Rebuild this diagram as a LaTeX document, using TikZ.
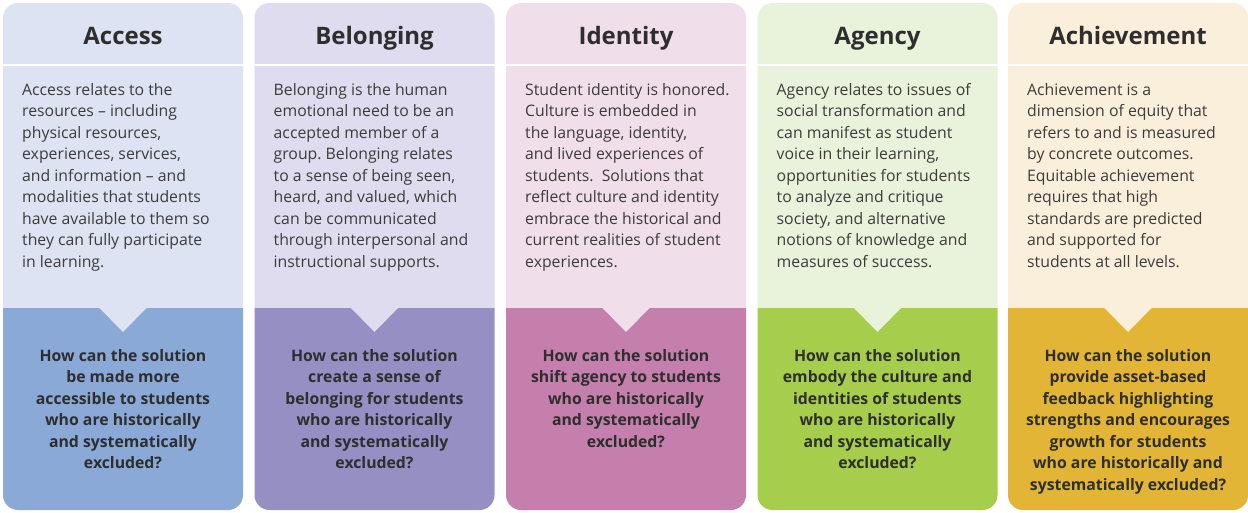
\documentclass[tikz,border=0pt]{standalone}
\usepackage{fontspec}
\setmainfont{Open Sans}
\frenchspacing
\definecolor{txt}{HTML}{2E2E2E}
\definecolor{bodytxt}{HTML}{3C3C3C}
\definecolor{lA}{HTML}{DDE3F2}\definecolor{dA}{HTML}{8BA9D6}
\definecolor{lB}{HTML}{DEDCEE}\definecolor{dB}{HTML}{958FC4}
\definecolor{lC}{HTML}{F1DEEB}\definecolor{dC}{HTML}{C47FAC}
\definecolor{lD}{HTML}{E9F2DA}\definecolor{dD}{HTML}{A6CE4C}
\definecolor{lE}{HTML}{FAEFDB}\definecolor{dE}{HTML}{E3B537}
\tikzset{
  titletext/.style={anchor=base, inner sep=0, text=txt, font=\fontsize{24}{28}\selectfont\bfseries},
  bodytext/.style={anchor=north west, inner sep=0, align=left, text=bodytxt, font=\fontsize{15.8}{21.5}\selectfont},
  qtext/.style={anchor=north, inner sep=0, align=center, text=txt, font=\fontsize{15.8}{21.5}\selectfont\bfseries},
}
\newcommand\eqcol[7]{%
  % #1 id, #2 left x, #3 light, #4 dark, #5 title, #6 body, #7 question
  \fill[#3] (#2,200) [rounded corners=15] -- (#2,3) -- (#2+240,3) -- (#2+240,200) [sharp corners] -- (#2+240,308) -- (#2,308) -- cycle;
  \fill[#4] (#2,308) -- (#2+240,308) [rounded corners=15] -- (#2+240,510) -- (#2,510) [sharp corners] -- (#2,400) -- cycle;
  \draw[white, line width=2] (#2,64.5) -- (#2+240,64.5);
  \fill[#3] (#2+95.5,307) -- (#2+144.5,307) -- (#2+120,332) -- cycle;
  \node[titletext] (t#1) at (#2+120,44.5) {#5};
  \node[bodytext] (b#1) at (#2+19,83) {#6};
  \node[qtext] (q#1) at (#2+120,349) {#7};
}
\begin{document}
\begin{tikzpicture}[x=1pt,y=-1pt]
\useasboundingbox (0,0) rectangle (1248,512);
\fill[white] (0,0) rectangle (1248,512);
\eqcol{1}{3}{lA}{dA}{Access}{Access relates to the\\resources -- including\\physical resources,\\experiences, services,\\and information -- and\\modalities that students\\have available to them so\\they can fully participate\\in learning.}{How can the solution\\be made more\\accessible to students\\who are historically\\and systematically\\excluded?}
\eqcol{2}{254.5}{lB}{dB}{Belonging}{Belonging is the human\\emotional need to be an\\accepted member of a\\group. Belonging relates\\to a sense of being seen,\\heard, and valued, which\\can be communicated\\through interpersonal and\\instructional supports.}{How can the solution\\create a sense of\\belonging for students\\who are historically\\and systematically\\excluded?}
\eqcol{3}{506}{lC}{dC}{Identity}{Student identity is honored.\\Culture is embedded in\\the language, identity,\\and lived experiences of\\students.\ \ Solutions that\\reflect culture and identity\\embrace the historical and\\current realities of student\\experiences.}{How can the solution\\shift agency to students\\who are historically\\and systematically\\excluded?}
\eqcol{4}{757.5}{lD}{dD}{Agency}{Agency relates to issues of\\social transformation and\\can manifest as student\\voice in their learning,\\opportunities for students\\to analyze and critique\\society, and alternative\\notions of knowledge and\\measures of success.}{How can the solution\\embody the culture and\\identities of students\\who are historically\\and systematically\\excluded?}
\eqcol{5}{1008}{lE}{dE}{Achievement}{Achievement is a\\dimension of equity that\\refers to and is measured\\by concrete outcomes.\\Equitable achievement\\requires that high\\standards are predicted\\and supported for\\students at all levels.}{How can the solution\\provide asset-based\\feedback highlighting\\strengths and encourages\\growth for students\\who are historically and\\systematically excluded?}
\end{tikzpicture}
\end{document}
